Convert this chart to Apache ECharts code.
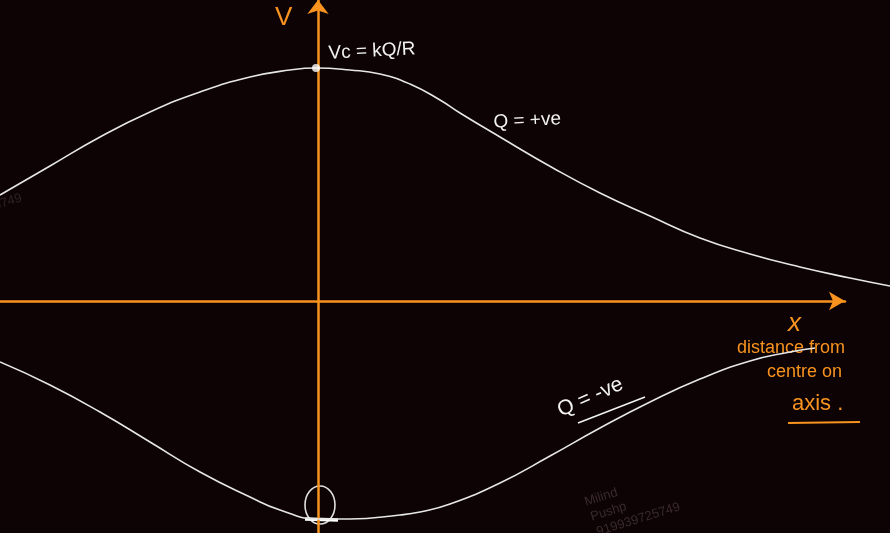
<!DOCTYPE html>
<html>
<head>
<meta charset="utf-8">
<script src="https://cdn.jsdelivr.net/npm/echarts@6/dist/echarts.min.js"></script>
<style>html,body{margin:0;padding:0;background:#0d0305;}#c{width:890px;height:533px;}</style>
</head>
<body>
<div id="c"></div>
<script>
// Curves in axis units (1 unit = 100 px, origin at the orange axes crossing)
const upperX = [-3.18,-2.68,-2.18,-1.68,-1.18,-0.68,-0.28,-0.02,0.32,0.62,0.92,1.22,1.42,1.82,2.35,2.82,3.32,3.82,4.32,4.82,5.32,5.72];
const upperY = [1.06,1.35,1.64,1.89,2.09,2.24,2.31,2.33,2.31,2.27,2.17,2.01,1.88,1.64,1.33,1.08,0.85,0.63,0.47,0.34,0.23,0.15];
const lowerX = [-3.18,-2.68,-2.18,-1.68,-1.18,-0.68,-0.38,0.0,0.32,0.82,1.02,1.32,1.82,2.32,2.82,3.32,3.82,4.32,4.72,4.97];
const lowerY = [-0.61,-0.84,-1.11,-1.41,-1.71,-1.96,-2.09,-2.18,-2.18,-2.14,-2.11,-2.03,-1.82,-1.55,-1.27,-1.01,-0.78,-0.60,-0.51,-0.47];
const peakPoint = [[-0.02, 2.33]];
const axisLabels = { y: 'V', x: 'x' };

const chart = echarts.init(document.getElementById('c'));
const orange = '#f7931e';
const white = '#e6e6e6';
const hand = '"Liberation Sans", "DejaVu Sans", sans-serif';
const hidden = { axisLine: { show: false }, axisTick: { show: false }, axisLabel: { show: false }, splitLine: { show: false } };

chart.setOption({
  backgroundColor: '#0d0305',
  animation: false,
  grid: [
    { left: 0, right: 0, top: 0, bottom: 0 },
    { left: 0, right: 45, top: 0, bottom: 0 }
  ],
  xAxis: [
    Object.assign({ type: 'value', min: -3.18, max: 5.72, gridIndex: 0 }, hidden),
    { type: 'value', min: -3.18, max: 5.27, gridIndex: 1,
      axisLine: { onZero: true, lineStyle: { color: orange, width: 2.5 }, symbol: ['none', 'arrow'], symbolSize: [14, 16] },
      axisTick: { show: false }, axisLabel: { show: false }, splitLine: { show: false } }
  ],
  yAxis: [
    { type: 'value', min: -2.32, max: 3.01, gridIndex: 0,
      axisLine: { onZero: true, lineStyle: { color: orange, width: 2.5 }, symbol: ['none', 'arrow'], symbolSize: [16, 14] },
      axisTick: { show: false }, axisLabel: { show: false }, splitLine: { show: false } },
    Object.assign({ type: 'value', min: -2.32, max: 3.01, gridIndex: 1 }, hidden)
  ],
  series: [
    { type: 'line', data: upperX.map((x, i) => [x, upperY[i]]), smooth: true, symbol: 'none',
      lineStyle: { color: white, width: 1.6 } },
    { type: 'line', data: lowerX.map((x, i) => [x, lowerY[i]]), smooth: true, symbol: 'none',
      lineStyle: { color: white, width: 1.6 } },
    { type: 'scatter', data: peakPoint, symbolSize: 8, itemStyle: { color: '#ffffff' }, z: 5 }
  ],
  graphic: [
    // watermark
    { type: 'text', x: 583, y: 496, rotation: 0.3, style: { text: 'Milind', fill: '#3a2a2c', font: '13px ' + hand } },
    { type: 'text', x: 589, y: 511, rotation: 0.3, style: { text: 'Pushp', fill: '#3a2a2c', font: '13px ' + hand } },
    { type: 'text', x: 595, y: 526, rotation: 0.3, style: { text: '919939725749', fill: '#3a2a2c', font: '13px ' + hand } },
    { type: 'text', x: -8, y: 200, rotation: 0.3, style: { text: '5749', fill: '#2e2224', font: '13px ' + hand } },
    // V label
    { type: 'text', x: 275, y: 5, style: { text: axisLabels.y, fill: orange, font: '26px ' + hand } },
    { type: 'text', x: 328, y: 44, rotation: 0.05, style: { text: 'Vc = kQ/R', fill: '#f2f2f2', font: '19px ' + hand } },
    { type: 'text', x: 493, y: 113, rotation: 0.05, style: { text: 'Q = +ve', fill: '#f2f2f2', font: '19px ' + hand } },
    { type: 'text', x: 563, y: 421, rotation: 0.42, style: { text: 'Q = -ve', fill: '#f2f2f2', font: '21px ' + hand, verticalAlign: 'bottom' } },
    { type: 'line', shape: { x1: 578, y1: 423, x2: 645, y2: 397 }, style: { stroke: '#f2f2f2', lineWidth: 1.5 } },
    // x label block
    { type: 'text', x: 788, y: 311, style: { text: axisLabels.x, fill: orange, font: 'italic 26px ' + hand } },
    { type: 'text', x: 737, y: 339, style: { text: 'distance from', fill: orange, font: '18px ' + hand } },
    { type: 'text', x: 767, y: 363, style: { text: 'centre on', fill: orange, font: '18px ' + hand } },
    { type: 'text', x: 792, y: 393, style: { text: 'axis .', fill: orange, font: '22px ' + hand } },
    { type: 'line', shape: { x1: 788, y1: 423, x2: 860, y2: 422 }, style: { stroke: orange, lineWidth: 2 } },
    // bottom marks
    { type: 'ellipse', shape: { cx: 320, cy: 505, rx: 15, ry: 19 }, style: { fill: 'none', stroke: '#e0e0e0', lineWidth: 1.6 } },
    { type: 'line', shape: { x1: 305, y1: 519, x2: 338, y2: 520 }, style: { stroke: '#ffffff', lineWidth: 3.5 } }
  ]
});
</script>
</body>
</html>
